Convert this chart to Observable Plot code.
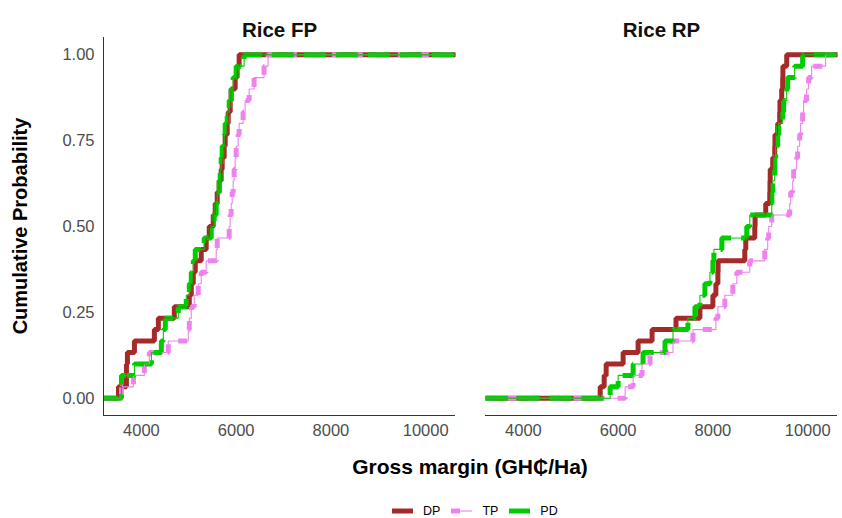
<!DOCTYPE html>
<html>
<head>
<meta charset="utf-8">
<script src="https://cdn.jsdelivr.net/npm/d3@7"></script>
<script src="https://cdn.jsdelivr.net/npm/@observablehq/plot@0.6"></script>
<style>
  html, body { margin: 0; padding: 0; background: #fff; }
  #wrap { position: relative; width: 842px; height: 518px; font-family: "Liberation Sans", Arial, sans-serif; }
  #chart { position: absolute; left: 0; top: 0; }
  .ytitle { position: absolute; left: 20px; top: 226px; transform: translate(-50%, -50%) rotate(-90deg); font-weight: bold; font-size: 20px; color: #000; white-space: nowrap; }
  .xtitle { position: absolute; left: 470px; top: 467px; transform: translate(-50%, -50%); font-weight: bold; font-size: 21px; color: #000; white-space: nowrap; }
  .legend { position: absolute; left: 392px; top: 504px; display: flex; align-items: center; font-size: 12.5px; color: #000; }
  .legend .item { display: flex; align-items: center; margin-right: 11px; }
  .legend svg { margin-right: 10px; }
</style>
</head>
<body>
<div id="wrap">
  <div id="chart"></div>
  <div class="ytitle">Cumulative Probability</div>
  <div class="xtitle">Gross margin (GH₵/Ha)</div>
  <div class="legend" id="legend"></div>
</div>
<script>
// ---- Data (gross margin observations, GH₵/Ha) ----
const crops = ["Rice FP", "Rice RP"];
const treatments = ["DP", "TP", "PD"];
const colors = ["#A52A2A", "#EE82EE", "#00CD00"];
const dashes = ["none", "9,13", "22,10"];

const fpDP = [3516, 3684, 3684, 3705, 3853, 4274, 4358, 4695, 5011, 5053, 5095, 5137, 5263, 5368, 5432, 5516, 5558, 5600, 5642, 5684, 5705, 5747, 5768, 5811, 5832, 5874, 5895, 5979, 6021, 6063];
const fpTP = [3579, 3832, 4063, 4168, 4568, 4989, 5011, 5053, 5116, 5200, 5263, 5368, 5579, 5600, 5853, 5874, 5895, 5916, 5937, 5958, 5979, 6000, 6042, 6063, 6147, 6189, 6274, 6379, 6589, 6674];
const fpPD = [3579, 3579, 3853, 4211, 4421, 4463, 4505, 4779, 4947, 5011, 5053, 5095, 5137, 5326, 5474, 5537, 5579, 5600, 5642, 5663, 5684, 5705, 5747, 5768, 5811, 5853, 5895, 5937, 6000, 6168];

const rpDP = [5621, 5705, 5747, 6105, 6421, 6716, 7221, 7726, 8000, 8063, 8105, 8110, 8673, 8694, 8884, 8890, 9115, 9200, 9205, 9210, 9263, 9305, 9310, 9368, 9410, 9415, 9452, 9473, 9478, 9558];
const rpTP = [6147, 6316, 6505, 6673, 7158, 7579, 8063, 8105, 8252, 8421, 8505, 8778, 9094, 9157, 9178, 9242, 9621, 9642, 9684, 9705, 9768, 9789, 9831, 9852, 9894, 9915, 9978, 10021, 10084, 10378];
const rpPD = [5831, 6000, 6316, 6526, 6989, 7158, 7473, 7621, 7726, 7831, 7937, 8000, 8021, 8189, 8715, 8778, 9242, 9245, 9263, 9305, 9308, 9326, 9368, 9389, 9473, 9494, 9558, 9579, 9726, 9894];

const xTicks = [4000, 6000, 8000, 10000];
const yTicks = [0, 0.25, 0.5, 0.75, 1];
const xDomain = [3200, 10630];

// ---- Build empirical CDF steps ----
function ecdf(values, crop, trt) {
  const s = values.slice().sort((a, b) => a - b);
  const n = s.length;
  const pts = [{crop, trt, x: xDomain[0], y: 0}];
  s.forEach((v, i) => pts.push({crop, trt, x: v, y: (i + 1) / n}));
  pts.push({crop, trt, x: xDomain[1], y: 1});
  return pts;
}
const series = [
  [fpDP, crops[0], "DP"], [fpTP, crops[0], "TP"], [fpPD, crops[0], "PD"],
  [rpDP, crops[1], "DP"], [rpTP, crops[1], "TP"], [rpPD, crops[1], "PD"]
];
const data = series.flatMap(([v, c, t]) => ecdf(v, c, t));

const thick = treatments.map((t, i) => Plot.line(data.filter(d => d.trt === t), {
  x: "x", y: "y", fx: "crop", curve: "step-after",
  stroke: colors[i], strokeWidth: 5, strokeDasharray: dashes[i],
  strokeLinecap: "butt", strokeLinejoin: "miter"
}));
const thin = treatments.map((t, i) => Plot.line(data.filter(d => d.trt === t), {
  x: "x", y: "y", fx: "crop", curve: "step-after",
  stroke: colors[i], strokeWidth: 1.1, strokeLinejoin: "miter"
}));

const chart = Plot.plot({
  width: 842,
  height: 445,
  marginLeft: 102,
  marginRight: 4,
  marginTop: 37,
  marginBottom: 30,
  style: {fontFamily: '"Liberation Sans", Arial, sans-serif', fontSize: "16px", color: "#4d4d4d", background: "white"},
  fx: {domain: crops, axis: null, paddingInner: 0.0783, paddingOuter: 0},
  x: {domain: xDomain},
  y: {domain: [-0.05, 1.05]},
  marks: [
    ...thick,
    ...thin,
    Plot.ruleY([-0.05], {stroke: "#333", strokeWidth: 1}),
    Plot.ruleX(crops.slice(0, 1), {fx: d => d, x: () => xDomain[0], stroke: "#333", strokeWidth: 1}),
    Plot.axisY({ticks: yTicks, tickSize: 0, tickPadding: 9, tickFormat: d3.format(".2f"), label: null, fontSize: 16.5}),
    Plot.axisX({ticks: xTicks, tickSize: 0, tickPadding: 9, tickFormat: d3.format("d"), label: null, fontSize: 16.5}),
    Plot.text(crops, {fx: d => d, text: d => d, frameAnchor: "top", dy: -15, fontWeight: "bold", fontSize: 20.5, fill: "#111"})
  ]
});
document.getElementById("chart").appendChild(chart);

// ---- Legend ----
const legend = document.getElementById("legend");
treatments.forEach((t, i) => {
  const item = document.createElement("div");
  item.className = "item";
  const ns = "http://www.w3.org/2000/svg";
  const sv = document.createElementNS(ns, "svg");
  sv.setAttribute("width", "21"); sv.setAttribute("height", "10");
  const thin1 = document.createElementNS(ns, "line");
  const th = document.createElementNS(ns, "line");
  [thin1, th].forEach(l => { l.setAttribute("x1", 0); l.setAttribute("x2", 21); l.setAttribute("y1", 5); l.setAttribute("y2", 5); l.setAttribute("stroke", colors[i]); });
  thin1.setAttribute("stroke-width", 1.1);
  th.setAttribute("stroke-width", 5);
  if (dashes[i] !== "none") th.setAttribute("stroke-dasharray", dashes[i]);
  sv.appendChild(th); sv.appendChild(thin1);
  const lab = document.createElement("span");
  lab.textContent = t;
  item.appendChild(sv); item.appendChild(lab);
  legend.appendChild(item);
});
</script>
</body>
</html>
